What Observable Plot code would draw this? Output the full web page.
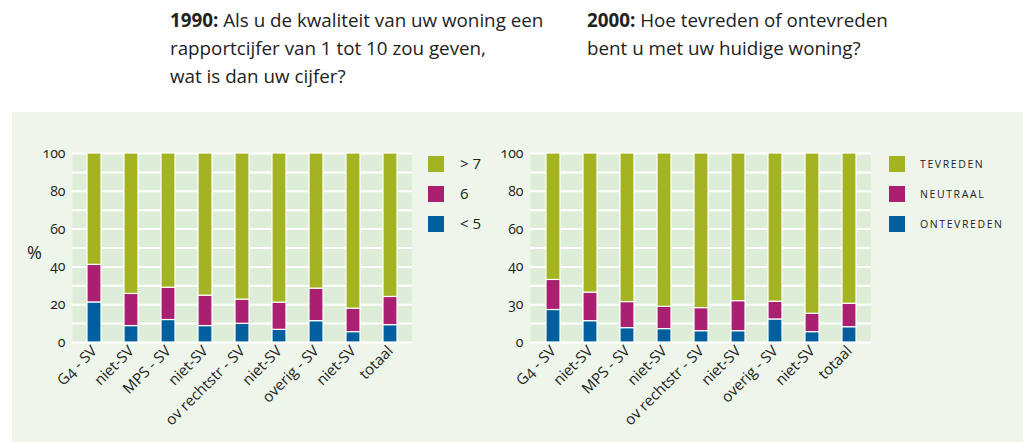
<!DOCTYPE html>
<html><head><meta charset="utf-8">
<script src="https://cdn.jsdelivr.net/npm/d3@7"></script>
<script src="https://cdn.jsdelivr.net/npm/@observablehq/plot@0.6"></script>
<style>
body{margin:0;width:1023px;height:442px;position:relative;overflow:hidden;background:#fff;font-family:"Open Sans",sans-serif;color:#222}
.title{position:absolute;top:6px;font-size:18.8px;line-height:28px;color:#222}
#panel{position:absolute;left:12px;top:112px;width:1011px;height:330px;background:#eef5ea}
.chart{position:absolute;top:112px}
.legend{position:absolute;top:156px}
.item{position:relative;height:30px}
.sw{position:absolute;left:0;top:0;width:16px;height:16px}
.lab{position:absolute;top:-3px;white-space:nowrap}
#leg1 .lab{left:32px;font-size:15px}
#leg2 .lab{left:31px;top:1px;font-size:10.5px;letter-spacing:1.6px}
#pct{position:absolute;left:27px;top:240px;font-size:18px}
svg text{font-variant-numeric:oldstyle-nums}
</style></head><body>
<div id="panel"></div>
<div class="title" style="left:170px"><b>1990:</b> Als u de kwaliteit van uw woning een<br>rapportcijfer van 1 tot 10 zou geven,<br>wat is dan uw cijfer?</div>
<div class="title" style="left:587px"><b>2000:</b> Hoe tevreden of ontevreden<br>bent u met uw huidige woning?</div>
<div id="c1" class="chart" style="left:12px"></div>
<div id="c2" class="chart" style="left:470px"></div>
<div id="pct">%</div>
<div id="leg1" class="legend" style="left:428px"></div>
<div id="leg2" class="legend" style="left:889px"></div>
<script>
const categories = ["G4 - SV","niet-SV","MPS - SV","niet-SV","ov rechtstr - SV","niet-SV","overig - SV","niet-SV","totaal"];
// 1990
const low1990  = [21.2, 8.7, 11.9, 8.7, 9.9, 6.7, 11.3, 5.5, 9.2];
const mid1990  = [19.9, 17.0, 17.1, 16.1, 12.8, 14.4, 17.2, 12.4, 14.9];
const high1990 = [58.9, 74.3, 71.0, 75.2, 77.3, 78.9, 71.5, 82.1, 75.9];
// 2000
const low2000  = [17.2, 11.3, 7.6, 7.1, 6.0, 6.0, 12.2, 5.5, 8.1];
const mid2000  = [15.9, 15.1, 13.8, 11.8, 12.2, 15.9, 9.4, 9.7, 12.4];
const high2000 = [66.9, 73.6, 78.6, 81.1, 81.8, 78.1, 78.4, 84.8, 79.5];

const legend1990 = ["> 7", "6", "< 5"];
const legend2000 = ["TEVREDEN", "NEUTRAAL", "ONTEVREDEN"];
const colors = ["#a3b321", "#a8206f", "#00609e"]; // top, middle, bottom

const yTicks = [0, 20, 40, 60, 80, 100];
const yTickLabels1990 = ["0", "20", "40", "60", "80", "100"];
const yTickLabels2000 = ["0", "30", "40", "60", "80", "100"];

function rows(low, mid, high) {
  const out = [];
  categories.forEach((c, i) => {
    out.push({i, s: "low", v: low[i]});
    out.push({i, s: "mid", v: mid[i]});
    out.push({i, s: "high", v: high[i]});
  });
  return out;
}

function chart(data, tickLabels, width) {
  return Plot.plot({
    width, height: 330,
    marginLeft: 60, marginRight: 0, marginTop: 41, marginBottom: 100,
    style: {fontFamily: "Open Sans", fontSize: "14px", background: "transparent", color: "#222"},
    x: {domain: d3.range(categories.length), paddingInner: 0.63, paddingOuter: 0.315, label: null, axis: null},
    y: {domain: [0, 100], label: null, axis: null},
    color: {domain: ["high", "mid", "low"], range: colors},
    marks: [
      Plot.frame({fill: "#deedd8", stroke: null}),
      Plot.ruleY(d3.range(0, 101, 10), {stroke: "white", strokeWidth: 2}),
      Plot.barY(data, Plot.stackY({x: "i", y: "v", fill: "s", stroke: "white", strokeWidth: 1.2})),
      Plot.axisY(yTicks, {tickSize: 0, tickPadding: 7, fontSize: 14, tickFormat: (d) => tickLabels[yTicks.indexOf(d)]}),
      Plot.axisX({tickSize: 0, tickPadding: 6, tickRotate: -45, fontSize: 15, tickFormat: i => categories[i]})
    ]
  });
}

document.getElementById("c1").append(chart(rows(low1990, mid1990, high1990), yTickLabels1990, 400));
document.getElementById("c2").append(chart(rows(low2000, mid2000, high2000), yTickLabels2000, 401));

function legend(id, labels) {
  const el = document.getElementById(id);
  labels.forEach((l, k) => {
    const it = document.createElement("div"); it.className = "item";
    const sw = document.createElement("div"); sw.className = "sw"; sw.style.background = colors[k];
    const lb = document.createElement("div"); lb.className = "lab"; lb.textContent = l;
    it.append(sw, lb); el.append(it);
  });
}
legend("leg1", legend1990);
legend("leg2", legend2000);
</script>
</body></html>
